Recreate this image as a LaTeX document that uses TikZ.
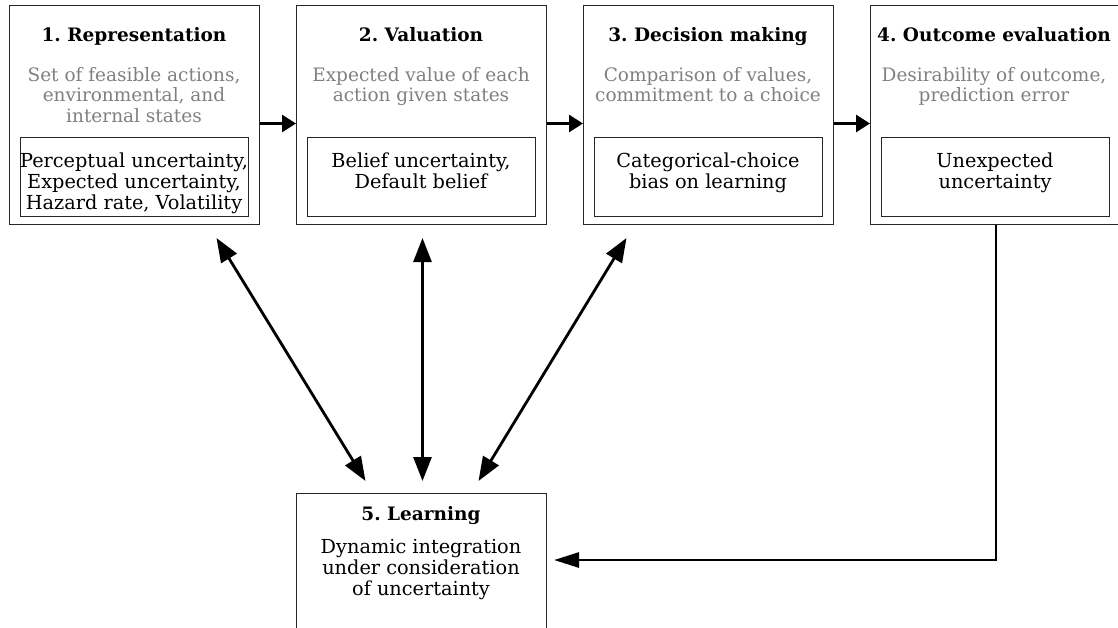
\documentclass[tikz,border=0pt]{standalone}
\usepackage{fontspec}
\setmainfont{DejaVu Serif}
\usetikzlibrary{arrows.meta,calc}
\definecolor{desc}{RGB}{128,128,128}
\frenchspacing
\begin{document}
\begin{tikzpicture}[x=1pt,y=1pt,
  outer/.style={draw=black!85,line width=1pt,minimum width=250pt,minimum height=219pt,inner sep=0pt,anchor=north west},
  inner/.style={draw=black!85,line width=1pt,minimum width=228pt,minimum height=79pt,inner sep=0pt,anchor=north},
  ttl/.style={font=\fontsize{18.5}{20.5}\selectfont\bfseries,inner sep=0pt,anchor=base},
  dsc/.style={font=\fontsize{18.5}{20.5}\selectfont,text=desc,align=center,inner sep=0pt,anchor=north},
  itx/.style={font=\fontsize{19.3}{21}\selectfont,align=center,inner sep=0pt,anchor=north},
  harr/.style={line width=2.8pt,-{Triangle[length=14pt,width=17pt]}},
  darr/.style={line width=2.8pt,{Triangle[length=24pt,width=18pt]}-{Triangle[length=24pt,width=18pt]}},
  sarr/.style={line width=2.8pt,-{Triangle[length=25pt,width=15pt]}}]
\useasboundingbox (0,0) rectangle (1118,-627);
\clip (0,0) rectangle (1118,-627);
% boxes
\node[outer] (b1) at (9,-5) {};
\node[outer] (b2) at (296,-5) {};
\node[outer] (b3) at (583,-5) {};
\node[outer] (b4) at (870,-5) {};
\node[outer,minimum height=160pt] (b5) at (296,-493) {};
% titles
\node[ttl] (t1) at (134,-41) {1. Representation};
\node[ttl] (t2) at (421,-41) {2. Valuation};
\node[ttl] (t3) at (708,-41) {3. Decision making};
\node[ttl] (t4) at (994,-41) {4. Outcome evaluation};
\node[ttl] (t5) at (421,-520) {5. Learning};
% descriptions
\node[dsc] (d1) at (134,-67) {Set of feasible actions,\\environmental, and\\internal states};
\node[dsc] (d2) at (421,-67) {Expected value of each\\action given states};
\node[dsc] (d3) at (708,-67) {Comparison of values,\\commitment to a choice};
\node[dsc] (d4) at (994,-67) {Desirability of outcome,\\prediction error};
% inner boxes
\node[inner] (i1) at (134,-137) {};
\node[inner] (i2) at (421,-137) {};
\node[inner] (i3) at (708,-137) {};
\node[inner] (i4) at (995,-137) {};
\node[itx] (x1) at (134,-152.5) {Perceptual uncertainty,\\Expected uncertainty,\\Hazard rate, Volatility};
\node[itx] (x2) at (421,-152.5) {Belief uncertainty,\\Default belief};
\node[itx] (x3) at (708,-152.5) {Categorical-choice\\bias on learning};
\node[itx] (x4) at (995,-152.5) {Unexpected\\uncertainty};
\node[itx] (x5) at (421,-539.5) {Dynamic integration\\under consideration\\of uncertainty};
% arrows
\draw[harr] ([yshift=-8.5pt]b1.east) -- ([yshift=-8.5pt]b2.west);
\draw[harr] ([yshift=-8.5pt]b2.east) -- ([yshift=-8.5pt]b3.west);
\draw[harr] ([yshift=-8.5pt]b3.east) -- ([yshift=-8.5pt]b4.west);
\draw[darr] ([shift={(82,-13)}]b1.south) -- ([shift={(-56,12)}]b5.north);
\draw[darr] ([shift={(1,-13)}]b2.south) -- ([shift={(1,12)}]b5.north);
\draw[darr] ([shift={(-82,-13)}]b3.south) -- ([shift={(57,12)}]b5.north);
\coordinate (c) at (996,-560);
\draw[sarr] (b4.south -| c) -- (c) -- ($(c -| b5.east)+(7,0)$);
\end{tikzpicture}
\end{document}
